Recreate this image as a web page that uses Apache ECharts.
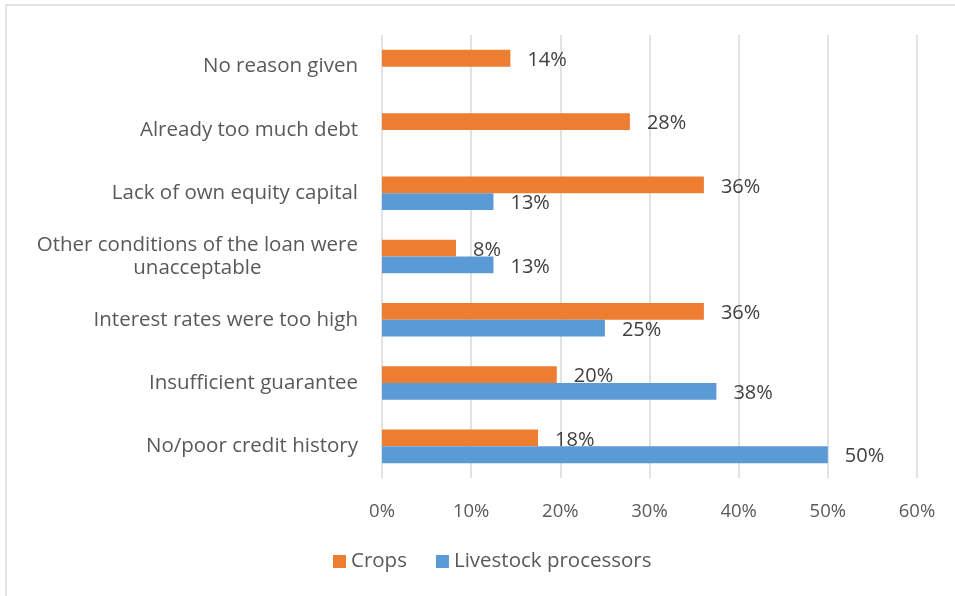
<!DOCTYPE html>
<html>
<head>
<meta charset="utf-8">
<script src="https://cdn.jsdelivr.net/npm/echarts@6/dist/echarts.min.js"></script>
<style>
  html, body { margin: 0; padding: 0; background: #fff; }
  #chart { width: 955px; height: 596px; }
</style>
</head>
<body>
<div id="chart"></div>
<script>
// Reasons for loan refusal, listed bottom to top
const categories = [
  'No/poor credit history',
  'Insufficient guarantee',
  'Interest rates were too high',
  'Other conditions of the loan were\nunacceptable',
  'Lack of own equity capital',
  'Already too much debt',
  'No reason given'
];
const cropsValues = [17.5, 19.6, 36.1, 8.3, 36.1, 27.8, 14.4];
const livestockValues = [50, 37.5, 25, 12.5, 12.5, null, null];
const xTicks = [0, 10, 20, 30, 40, 50, 60];

const FONT = 'Open Sans';
const TEXT_FS = 20.5;   // category names and legend
const TICK_FS = 18.5;   // axis tick labels
const VALUE_FS = 20;    // bar value labels
const chart = echarts.init(document.getElementById('chart'), null, { renderer: 'canvas' });

const pctLabel = {
  show: true,
  position: 'right',
  distance: 17,
  offset: [0, 2],
  color: '#404040',
  fontFamily: FONT,
  fontSize: VALUE_FS,
  formatter: p => Math.round(p.value) + '%'
};

chart.setOption({
  animation: false,
  backgroundColor: '#fff',
  graphic: [{
    type: 'rect',
    shape: { x: 6, y: 5, width: 960, height: 600 },
    style: { fill: 'none', stroke: '#d9d9d9', lineWidth: 1.5 }
  }],
  grid: { left: 382, right: 38, top: 35, bottom: 118, containLabel: false },
  legend: {
    data: ['Crops', 'Livestock processors'],
    bottom: 19,
    left: 328,
    icon: 'rect',
    itemWidth: 13,
    itemHeight: 13,
    itemGap: 29,
    textStyle: { color: '#595959', fontFamily: FONT, fontSize: TEXT_FS }
  },
  xAxis: {
    type: 'value',
    min: xTicks[0],
    max: xTicks[xTicks.length - 1],
    interval: 10,
    axisLine: { show: false },
    axisTick: { show: false },
    splitLine: { show: true, lineStyle: { color: '#d9d9d9', width: 1.5 } },
    axisLabel: {
      color: '#595959', fontFamily: FONT, fontSize: TICK_FS, margin: 24,
      formatter: v => v + '%'
    }
  },
  yAxis: {
    type: 'category',
    data: categories,
    axisLine: { show: false },
    axisTick: { show: false },
    axisLabel: {
      color: '#595959', fontFamily: FONT, fontSize: TEXT_FS, margin: 24,
      lineHeight: 23,
      formatter: v => v.indexOf('\n') >= 0
        ? v.split('\n').map(s => '{c|' + s + '}').join('\n')
        : v,
      rich: { c: { align: 'center', color: '#595959', fontFamily: FONT, fontSize: TEXT_FS, lineHeight: 23 } }
    }
  },
  series: [
    {
      name: 'Crops',
      type: 'bar',
      data: cropsValues,
      barGap: '0%',
      barCategoryGap: '47%',
      itemStyle: { color: '#ED7D31' },
      label: pctLabel
    },
    {
      name: 'Livestock processors',
      type: 'bar',
      data: livestockValues,
      barGap: '0%',
      barCategoryGap: '47%',
      itemStyle: { color: '#5B9BD5' },
      label: pctLabel
    }
  ]
});
</script>
</body>
</html>
